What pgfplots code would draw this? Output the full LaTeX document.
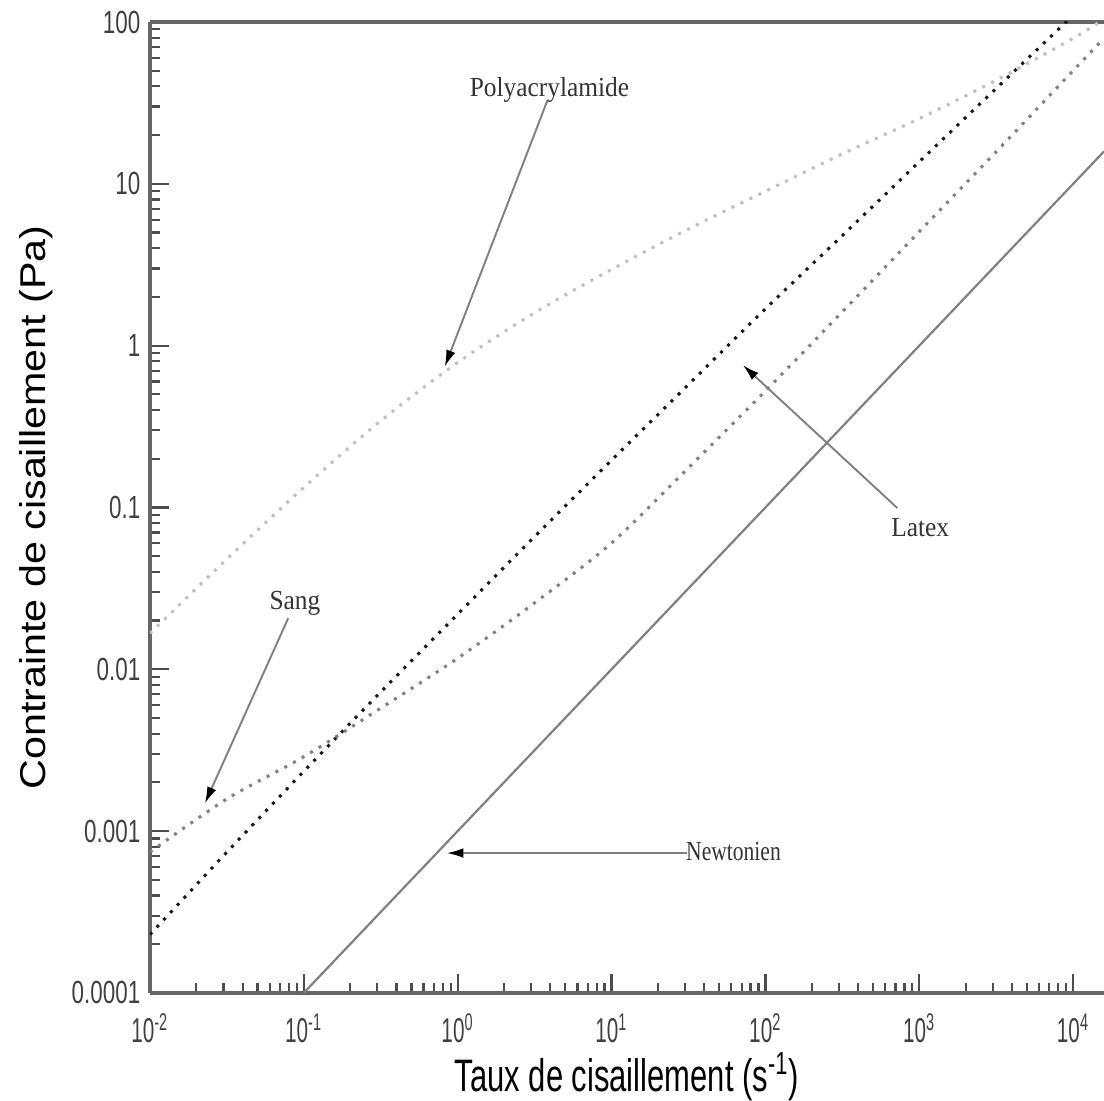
\documentclass[border=0pt]{standalone}
\usepackage{fontspec}
\setmainfont{Liberation Sans}
\newfontfamily\xtickfont{Liberation Sans}[FakeStretch=0.6]
\newfontfamily\ytickfont{Liberation Sans}[FakeStretch=0.7]
\newfontfamily\xlabfont{Liberation Sans}[FakeStretch=0.68]
\newfontfamily\ylabfont{Liberation Sans}[FakeStretch=1.15]
\newfontfamily\annfont{Liberation Serif}[FakeStretch=0.92]
\usepackage{pgfplots}
\pgfplotsset{compat=1.18}
\usetikzlibrary{arrows.meta}

% shear rate / shear stress
\pgfplotstableread{
x         latex     sang      polya
0.01      2.29e-4   7.41e-4   0.01667
0.0316228 7.41e-4   1.58e-3   0.0480
0.1       2.34e-3   2.88e-3   0.133
0.316228  7.24e-3   5.75e-3   0.343
1         0.0219    0.0117    0.787
3.16228   0.0661    0.0257    1.596
10        0.196     0.0603    2.958
31.6228   0.575     0.176     5.26
100       1.69      0.525     8.99
316.228   4.79      1.62      15.31
1000      13.7      5.07      25.3
3162.28   38.9      15.8      43.7
10000     110       50.1      79.4
15849     166       79.4      104.7
}\rheo

\tikzset{annot/.style={black!50, line width=0.7pt,
  -{Latex[length=6pt,width=3.5pt,color=black]}}}

\begin{document}
\begin{tikzpicture}
\begin{loglogaxis}[
  name=ax,
  scale only axis,
  width=345.7pt, height=351.8pt,
  xmin=0.01, xmax=15849,
  ymin=1e-4, ymax=100,
  axis x line*=box, axis y line*=left,
  xtick pos=left, ytick pos=left,
  tick align=inside,
  axis line style={black!60, line width=1.3pt, -},
  major tick length=7pt, minor tick length=3.5pt,
  every tick/.style={black!70, line width=0.8pt},
  xtick={0.01,0.1,1,10,100,1000,10000},
  xticklabels={10\textsuperscript{-2},10\textsuperscript{-1},10\textsuperscript{0},10\textsuperscript{1},10\textsuperscript{2},10\textsuperscript{3},10\textsuperscript{4}},
  ytick={0.0001,0.001,0.01,0.1,1,10,100},
  yticklabels={0.0001,0.001,0.01,0.1,1,10,100},
  xticklabel style={font=\xtickfont\fontsize{12.5}{14}\selectfont, black!75, yshift=-4pt},
  yticklabel style={font=\ytickfont\fontsize{11.6}{13}\selectfont, black!75},
  xlabel={Taux de cisaillement (s\textsuperscript{-1})},
  ylabel={Contrainte de cisaillement (Pa)},
  xlabel style={font=\xlabfont\fontsize{16.5}{18}\selectfont,
    at={(axis description cs:0.5,0)}, anchor=base, yshift=-35.9pt},
  ylabel style={font=\ylabfont\fontsize{13}{15}\selectfont},
  dotted line/.style={line width=1.1pt, dash pattern=on 1.1pt off 2.5pt, smooth},
]
\addplot[dotted line, black!25] table[x=x, y=polya] {\rheo};
\addplot[dotted line, black!90] table[x=x, y=latex] {\rheo};
\addplot[dotted line, black!50] table[x=x, y=sang] {\rheo};
\addplot[black!50, line width=0.8pt] coordinates {(0.1,1e-4) (15849,15.849)};

% annotations
\node[font=\annfont\fontsize{10}{12}\selectfont, black!80] at (axis cs:3.95,38) {Polyacrylamide};
\draw[annot] (axis cs:3.84,33) -- (axis cs:0.824,0.741);
\node[font=\annfont\fontsize{10}{12}\selectfont, black!80] at (axis cs:0.0875,0.02564) {Sang};
\draw[annot] (axis cs:0.0791,0.02065) -- (axis cs:0.02275,0.001483);
\node[font=\annfont\fontsize{10}{12}\selectfont, black!80] at (axis cs:1014,0.0747) {Latex};
\draw[annot] (axis cs:719.8,0.0991) -- (axis cs:71.3,0.758);
\node[font=\annfont\fontsize{10}{12}\selectfont, black!80] at (axis cs:62,7.51e-4) {\scalebox{0.85}[1]{Newtonien}};
\draw[annot] (axis cs:30.7,7.31e-4) -- (axis cs:0.849,7.31e-4);
\end{loglogaxis}
\pgfresetboundingbox
\path[use as bounding box] ([xshift=-54.35pt,yshift=-39.13pt]ax.south west) rectangle ([yshift=7.97pt]ax.north east);
\end{tikzpicture}
\end{document}
